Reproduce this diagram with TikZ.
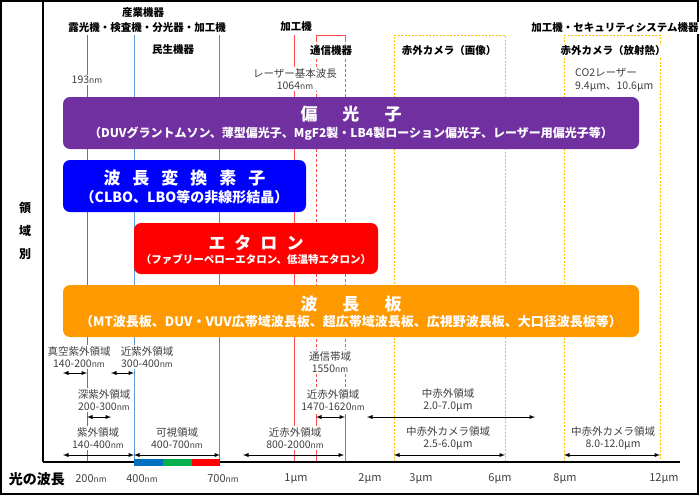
\documentclass[tikz,border=0pt]{standalone}
\usepackage{fontspec}
\setmainfont{Noto Sans CJK JP}
\usepackage{xcolor}
\usepackage{tikz}
\usetikzlibrary{calc, positioning}

\definecolor{polpurple}{HTML}{7030A0}
\definecolor{convblue}{HTML}{0000FF}
\definecolor{etared}{HTML}{FF0000}
\definecolor{waveorange}{HTML}{FF9900}
\definecolor{uvline}{HTML}{8064A2}
\definecolor{visline}{HTML}{5B9BD5}
\definecolor{irline}{HTML}{FF4B4B}
\definecolor{camyellow}{HTML}{FFC000}
\definecolor{labgray}{HTML}{404040}
\definecolor{specblue}{HTML}{0070C0}
\definecolor{specgreen}{HTML}{00B050}

\newcommand{\unm}{{\fontsize{8.5}{10}\selectfont nm}}

\tikzset{
  grouplbl/.style={font=\fontsize{10.5}{12}\selectfont\bfseries, inner sep=1pt, fill=white},
  rangelbl/.style={font=\fontsize{10.5}{12.5}\selectfont, text=labgray, fill=white, inner sep=1pt, align=center},
  ticklbl/.style={font=\fontsize{11}{12}\selectfont, text=labgray, inner sep=1pt},
  optbox/.style={rounded corners=7pt, inner sep=0pt},
  boxtitle/.style={font=\fontsize{17}{18}\selectfont\bfseries, text=white, inner sep=0pt},
  boxsub/.style={font=\fontsize{12}{14}\selectfont\bfseries, text=white, inner sep=0pt},
  camline/.style={camyellow, line width=0.9pt, dash pattern=on 2pt off 1.5pt},
}

\begin{document}
\begin{tikzpicture}[>=latex, x=1pt, y=-1pt]
    \useasboundingbox (0,0) rectangle (700,496);

    % 1. 外枠と軸
    \draw[line width=1.2pt] (1,1) rectangle (698,494);
    \draw[line width=1.2pt] (43,1) -- (43,462);

    % 2. 波長ごとの縦線
    \draw[uvline, line width=1pt] (87,35) -- (87,462);
    \draw[visline, line width=1pt] (134,35) -- (134,462);
    \draw[irline, line width=1pt] (219,35) -- (219,462);
    \draw[irline, line width=1pt] (294,35) -- (294,462);
    \draw[irline, line width=1pt] (316,39) -- (316,35) -- (345,35) -- (345,39);
    \foreach \xx in {316, 345} {
        \draw[irline, line width=1pt, dash pattern=on 3pt off 2pt] (\xx,39) -- (\xx,417);
        \draw[irline, line width=1pt] (\xx,417) -- (\xx,462);
    }
    \draw[camline] (394,462) -- (394,35) -- (505,35) -- (505,462);
    \draw[camline] (564,462) -- (564,35) -- (660,35) -- (660,462);

    % 3. 光学素子の帯
    \node[optbox, fill=polpurple, minimum width=576pt, minimum height=52pt] (polbox) at (351,123) {};
    \node[boxtitle] (poltitle) at ([yshift=9pt]polbox.center) {偏\hspace{25pt}光\hspace{25pt}子};
    \node[boxsub] (polsub) at ([yshift=-11pt]polbox.center) {（DUVグラントムソン、薄型偏光子、MgF2製・LB4製ローション偏光子、レーザー用偏光子等）};

    \node[optbox, fill=convblue, minimum width=243pt, minimum height=52pt] (convbox) at (184.5,186) {};
    \node[boxtitle] (convtitle) at ([yshift=8pt]convbox.center) {波\hspace{12pt}長\hspace{12pt}変\hspace{12pt}換\hspace{12pt}素\hspace{12pt}子};
    \node[boxsub, font=\fontsize{14}{16}\selectfont\bfseries] (convsub) at ([yshift=-11pt]convbox.center) {（CLBO、LBO等の非線形結晶）};

    \node[optbox, fill=etared, minimum width=244pt, minimum height=51pt] (etabox) at (256,248.5) {};
    \node[boxtitle] (etatitle) at ([yshift=6pt]etabox.center) {エ\hspace{9pt}タ\hspace{9pt}ロ\hspace{9pt}ン};
    \node[boxsub, font=\fontsize{10.5}{12}\selectfont\bfseries] (etasub) at ([yshift=-11pt]etabox.center) {（ファブリーペローエタロン、低温特エタロン）};

    \node[optbox, fill=waveorange, minimum width=576pt, minimum height=52pt] (wavebox) at (351,311) {};
    \node[boxtitle] (wavetitle) at ([yshift=7pt]wavebox.center) {波\hspace{25pt}長\hspace{25pt}板};
    \node[boxsub, font=\fontsize{13}{15}\selectfont\bfseries] (wavesub) at ([yshift=-11pt]wavebox.center) {（MT波長板、DUV・VUV広帯域波長板、超広帯域波長板、広視野波長板、大口径波長板等）};

    % 4. 用途の見出し
    \node[grouplbl] (ind) at (143,13) {産業機器};
    \node[grouplbl] (indlist) at (147,28) {露光機・検査機・分光器・加工機};
    \node[grouplbl] (cons) at (173,50) {民生機器};
    \node[grouplbl] (proc) at (296,27) {加工機};
    \node[grouplbl] (comm) at (331,51) {通信機器};
    \node[grouplbl] (camimg) at (449,51) {赤外カメラ（画像）};
    \node[grouplbl] (sec) at (615,28) {加工機・セキュリティシステム機器};
    \node[grouplbl] (camheat) at (613,51) {赤外カメラ（放射熱）};
    \node[rangelbl] (arf) at (87,80) {193\unm};
    \node[rangelbl] (yag) at (295,79) {レーザー基本波長\\1064\unm};
    \node[rangelbl, anchor=west, align=left] (co2) at (574,80) {CO2レーザー\\9.4μm、10.6μm};

    % 5. 波長域の矢印とラベル
    \foreach \xa/\xb/\yy in {63/87/373, 111/134/373, 87/111/417, 316/345/417, 367/535/417,
                             63/134/455, 134/220/455, 243/344/455, 394/505/455, 564/660/455}
        \draw[<->, line width=0.9pt] (\xa,\yy) -- (\xb,\yy);
    \node[rangelbl] (vuv) at (79,357) {真空紫外領域\\140-200\unm};
    \node[rangelbl] (nuv) at (147,357) {近紫外領域\\300-400\unm};
    \node[rangelbl] (duv) at (104,400) {深紫外領域\\200-300\unm};
    \node[rangelbl] (uv) at (98,438) {紫外領域\\140-400\unm};
    \node[rangelbl] (vis) at (177,438) {可視領域\\400-700\unm};
    \node[rangelbl] (telband) at (330,362) {通信帯域\\1550\unm};
    \node[rangelbl] (nirtel) at (333,400) {近赤外領域\\1470-1620\unm};
    \node[rangelbl] (mir) at (448,400) {中赤外領域\\2.0-7.0μm};
    \node[rangelbl] (nir) at (295,438) {近赤外領域\\800-2000\unm};
    \node[rangelbl] (mircam) at (448,438) {中赤外カメラ領域\\2.5-6.0μm};
    \node[rangelbl] (lwircam) at (613,438) {中赤外カメラ領域\\8.0-12.0μm};

    % 6. 波長軸と可視光のスペクトル
    \draw[line width=2pt] (43,462) -- (680,462);
    \fill[specblue] (134,459) rectangle (163,466);
    \fill[specgreen] (163,459) rectangle (192,466);
    \fill[etared] (192,459) rectangle (220,466);

    % 7. 軸の目盛りと左側の見出し
    \node[font=\fontsize{14}{16}\selectfont\bfseries, inner sep=0pt] (axtitle) at (37,479) {光の波長};
    \node[font=\fontsize{12}{23}\selectfont\bfseries, align=center, inner sep=0pt] (regtitle) at (25,231) {領\\域\\別};
    \foreach \xx/\tick [count=\i] in {91/200\unm, 142/400\unm, 223/700\unm, 296/1μm, 370/2μm,
                                      421/3μm, 500/6μm, 565/8μm, 664/12μm}
        \node[ticklbl] (tick\i) at (\xx,479) {\tick};
\end{tikzpicture}
\end{document}
